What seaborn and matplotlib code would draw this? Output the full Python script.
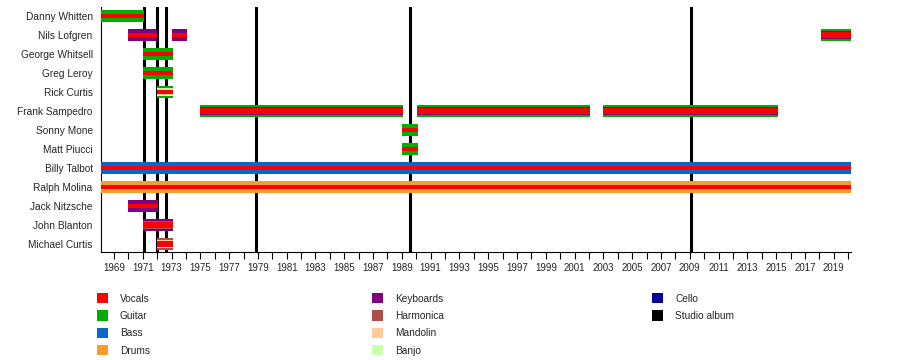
import numpy as np
import seaborn as sns
import matplotlib.pyplot as plt
from matplotlib.patches import Patch

# band members, top to bottom
members = ["Danny Whitten", "Nils Lofgren", "George Whitsell", "Greg Leroy",
           "Rick Curtis", "Frank Sampedro", "Sonny Mone", "Matt Piucci",
           "Billy Talbot", "Ralph Molina", "Jack Nitzsche", "John Blanton",
           "Michael Curtis"]

# one entry per stint in the band (roles listed outer -> inner)
period_member = ["Danny Whitten", "Nils Lofgren", "Nils Lofgren", "Nils Lofgren",
                 "George Whitsell", "Greg Leroy", "Rick Curtis",
                 "Frank Sampedro", "Frank Sampedro", "Frank Sampedro",
                 "Sonny Mone", "Matt Piucci", "Billy Talbot", "Ralph Molina",
                 "Jack Nitzsche", "John Blanton", "Michael Curtis"]
period_start = [1968.1, 1970.0, 1973.0, 2018.1, 1971.0, 1971.0, 1972.0,
                1975.0, 1990.05, 2003.0, 1989.0, 1989.0, 1968.1, 1968.1,
                1970.0, 1971.0, 1972.0]
period_end = [1971.1, 1972.0, 1974.1, 2020.2, 1973.1, 1973.1, 1973.1,
              1989.1, 2002.1, 2015.1, 1990.1, 1990.1, 2020.2, 2020.2,
              1972.05, 1973.1, 1973.1]
period_roles = ["Guitar/Vocals", "Keyboards/Vocals", "Keyboards/Vocals",
                "Guitar/Keyboards/Vocals", "Guitar/Vocals", "Guitar/Vocals",
                "Guitar/Banjo/Mandolin/Vocals", "Guitar/Keyboards/Vocals",
                "Guitar/Keyboards/Vocals", "Guitar/Keyboards/Vocals",
                "Guitar/Vocals", "Guitar/Vocals", "Bass/Vocals", "Drums/Vocals",
                "Keyboards/Vocals", "Keyboards/Harmonica/Vocals",
                "Harmonica/Mandolin/Vocals"]

# studio album release dates
albums = [1971.08, 1972.0, 1972.6, 1978.86, 1989.56, 2009.07]

legend_cols = [["Vocals", "Guitar", "Bass", "Drums"],
               ["Keyboards", "Harmonica", "Mandolin", "Banjo"],
               ["Cello", "Studio album"]]

colors = {"Vocals": "#ff0000", "Guitar": "#00ad00", "Bass": "#0a66cc",
          "Drums": "#f99c2c", "Keyboards": "#800080", "Harmonica": "#b04c4c",
          "Mandolin": "#ffcc99", "Banjo": "#ccffaa", "Cello": "#000099",
          "Studio album": "#000000"}

# layer heights in pixels (row pitch is 19 px), even so edges land on pixels
layer_px = {1: [12], 2: [12, 4], 3: [12, 8, 6], 4: [12, 8, 6, 4]}
row_px = 19.0

sns.set_style("white")
plt.rcParams['font.family'] = ['Liberation Sans', 'DejaVu Sans']

fig = plt.figure(figsize=(9, 3.6), dpi=100)
ax = fig.add_axes([101 / 900, 1 - 252 / 360, 750 / 900, 245 / 360])

for m, s, e, r in zip(period_member, period_start, period_end, period_roles):
    row = members.index(m)
    roles = r.split("/")
    for k, (role, h) in enumerate(zip(roles, layer_px[len(roles)])):
        ax.barh(row, e - s, left=s, height=h / row_px, color=colors[role],
                linewidth=0, zorder=3 + k)

for a in albums:
    ax.axvline(a, color="black", lw=2.2, zorder=2)

ax.set_xlim(1968.1, 2020.2)
ax.set_ylim(12 + 8 / row_px, -9 / row_px)
ax.set_yticks(range(len(members)))
ax.set_yticklabels(members, fontsize=7.3)
ax.set_xticks(np.arange(1969, 2020, 2))
ax.set_xticks(np.arange(1969, 2021, 1), minor=True)
ax.set_xticklabels([str(y) for y in range(1969, 2020, 2)], fontsize=7)
ax.tick_params(axis="y", length=0, pad=6)
ax.tick_params(axis="x", which="both", length=5, width=0.8, color="black",
               direction="out", pad=3, bottom=True)

for side in ["top", "right"]:
    ax.spines[side].set_visible(False)
for side in ["left", "bottom"]:
    ax.spines[side].set_color("black")
    ax.spines[side].set_linewidth(0.8)

# legend, three columns
fs = 7.3
fpx = fs * 100 / 72
col_x = [97, 372, 652]
for cx, labels in zip(col_x, legend_cols):
    handles = [Patch(facecolor=colors[l], edgecolor="none", label=l) for l in labels]
    fig.legend(handles=handles, loc="upper left",
               bbox_to_anchor=(cx / 900, 1 - 293 / 360),
               frameon=False, fontsize=fs, borderpad=0, borderaxespad=0,
               handlelength=11 / fpx, handleheight=12 / fpx,
               handletextpad=12 / fpx, labelspacing=6.8 / fpx)

fig.savefig("out.png", dpi=100)
